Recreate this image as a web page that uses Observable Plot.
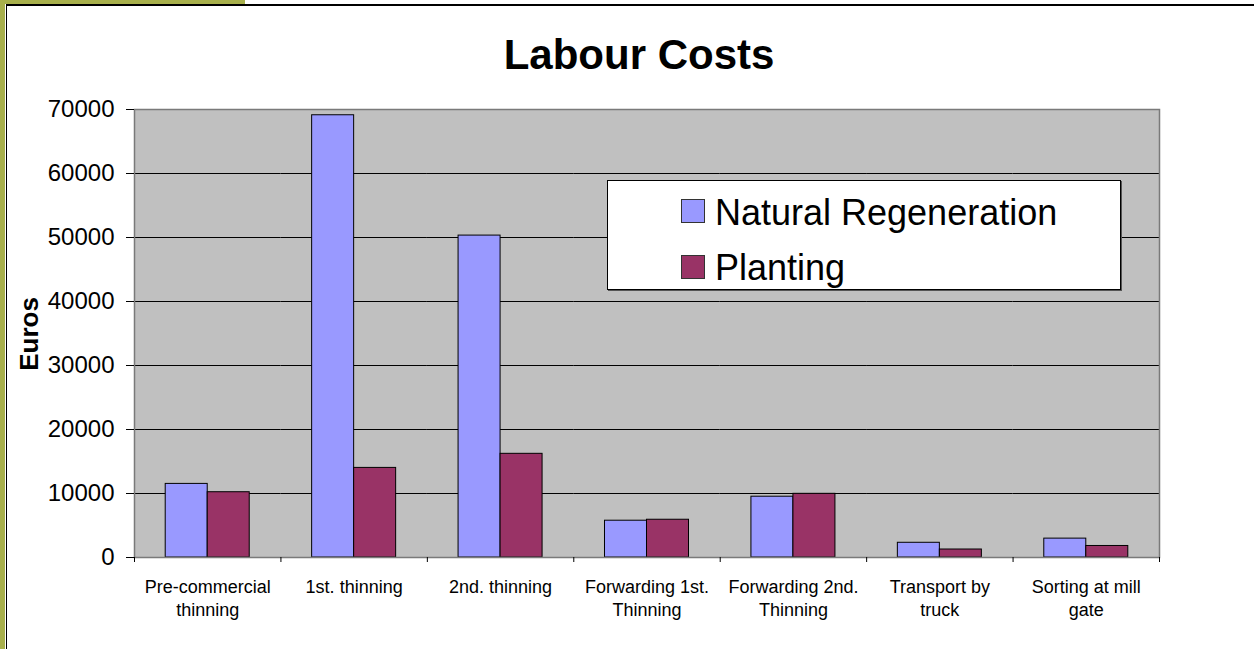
<!DOCTYPE html>
<html>
<head>
<meta charset="utf-8">
<script src="https://cdn.jsdelivr.net/npm/d3@7"></script>
<script src="https://cdn.jsdelivr.net/npm/@observablehq/plot@0.6"></script>
<style>
  html, body { margin: 0; padding: 0; background: #fff; }
  body { width: 1254px; height: 649px; overflow: hidden; position: relative; font-family: "Liberation Sans", Arial, sans-serif; }
  .olive { position: absolute; background: #a8b04c; }
  .line { position: absolute; background: #000; }
  #chart { position: absolute; left: 0; top: 0; }
  #title { position: absolute; left: 639px; top: 34px; transform: translateX(-50%); font-size: 42px; line-height: 42px; font-weight: bold; white-space: nowrap; color: #000; }
  #ylabel { position: absolute; left: 29.3px; top: 334px; transform: translate(-50%, -50%) rotate(-90deg); font-size: 26px; line-height: 26px; font-weight: bold; white-space: nowrap; color: #000; }
  #legend { position: absolute; left: 607px; top: 180px; width: 514px; height: 110px; box-sizing: border-box; background: #fff; border: 1px solid #000; box-shadow: 1px 1px 0 #555; }
  #legend .sw { position: absolute; width: 24px; height: 24px; box-sizing: border-box; border: 1px solid #333; }
  #legend .lab { position: absolute; font-size: 36px; line-height: 36px; white-space: nowrap; color: #000; }
</style>
</head>
<body>
<div class="olive" style="left:0;top:0;width:5px;height:649px"></div>
<div class="olive" style="left:0;top:0;width:245px;height:4px"></div>
<div class="line" style="left:6px;top:4px;width:1248px;height:1.5px"></div>
<div class="line" style="left:6px;top:4px;width:1.2px;height:645px"></div>
<div id="chart"></div>
<div id="title">Labour Costs</div>
<div id="ylabel">Euros</div>
<div id="legend"></div>
<script>
const categories = ["Pre-commercial thinning", "1st. thinning", "2nd. thinning", "Forwarding 1st. Thinning", "Forwarding 2nd. Thinning", "Transport by truck", "Sorting at mill gate"];
const tickLabels = ["Pre-commercial\nthinning", "1st. thinning", "2nd. thinning", "Forwarding 1st.\nThinning", "Forwarding 2nd.\nThinning", "Transport by\ntruck", "Sorting at mill\ngate"];
const seriesNames = ["Natural Regeneration", "Planting"];
const naturalRegeneration = [11500, 69100, 50300, 5750, 9500, 2300, 2950];
const planting = [10200, 14000, 16200, 5900, 9950, 1250, 1800];
const seriesColors = ["#9999ff", "#993366"];
const yTicks = [0, 10000, 20000, 30000, 40000, 50000, 60000, 70000];

const data = categories.flatMap((c, i) => [
  {category: c, series: seriesNames[0], value: naturalRegeneration[i]},
  {category: c, series: seriesNames[1], value: planting[i]}
]);

const W = 1254, H = 649, mL = 134, mR = 95, mT = 109, mB = 92;
const step = (W - mL - mR) / categories.length;

const chart = Plot.plot({
  width: W, height: H,
  marginLeft: mL, marginRight: mR, marginTop: mT, marginBottom: mB,
  style: {fontFamily: '"Liberation Sans", Arial, sans-serif', background: "transparent", color: "#000", overflow: "visible"},
  fx: {domain: categories, padding: 0, round: false, label: null},
  x: {domain: seriesNames, paddingInner: 0, paddingOuter: 0.743, round: false, axis: null},
  y: {domain: [0, 70000], label: null},
  color: {domain: seriesNames, range: seriesColors},
  marks: [
    Plot.frame({facet: "super", fill: "#c0c0c0"}),
    Plot.gridY(yTicks.slice(1, -1), {stroke: "#000", strokeOpacity: 1, strokeWidth: 1}),
    Plot.barY(data, {fx: "category", x: "series", y: "value", fill: "series", stroke: "#000", strokeWidth: 1}),
    Plot.ruleY([0], {stroke: "#000", strokeWidth: 1.2}),
    Plot.frame({facet: "super", stroke: "#7a7a7a", strokeWidth: 1.5}),
    Plot.axisY({ticks: yTicks, tickSize: 8, tickPadding: 12, fontSize: 24, label: null, tickFormat: d => String(d)}),
    Plot.axisFx({anchor: "bottom", tickSize: 0, tickPadding: 20, fontSize: 18, lineHeight: 1.25, label: null,
      tickFormat: c => tickLabels[categories.indexOf(c)]}),
    Plot.axisFx({anchor: "bottom", tickSize: 5, text: null, label: null, dx: -step / 2}),
    Plot.axisFx({anchor: "bottom", ticks: [categories[categories.length - 1]], tickSize: 5, text: null, label: null, dx: step / 2})
  ]
});
document.getElementById("chart").appendChild(chart);

const legend = document.getElementById("legend");
const swatchTops = [18, 74];
const labelTops = [14, 69];
seriesNames.forEach((name, i) => {
  const sw = document.createElement("div");
  sw.className = "sw";
  sw.style.left = "73px";
  sw.style.top = swatchTops[i] + "px";
  sw.style.background = seriesColors[i];
  legend.appendChild(sw);
  const lab = document.createElement("div");
  lab.className = "lab";
  lab.style.left = "107px";
  lab.style.top = labelTops[i] + "px";
  lab.textContent = name;
  legend.appendChild(lab);
});
</script>
</body>
</html>
